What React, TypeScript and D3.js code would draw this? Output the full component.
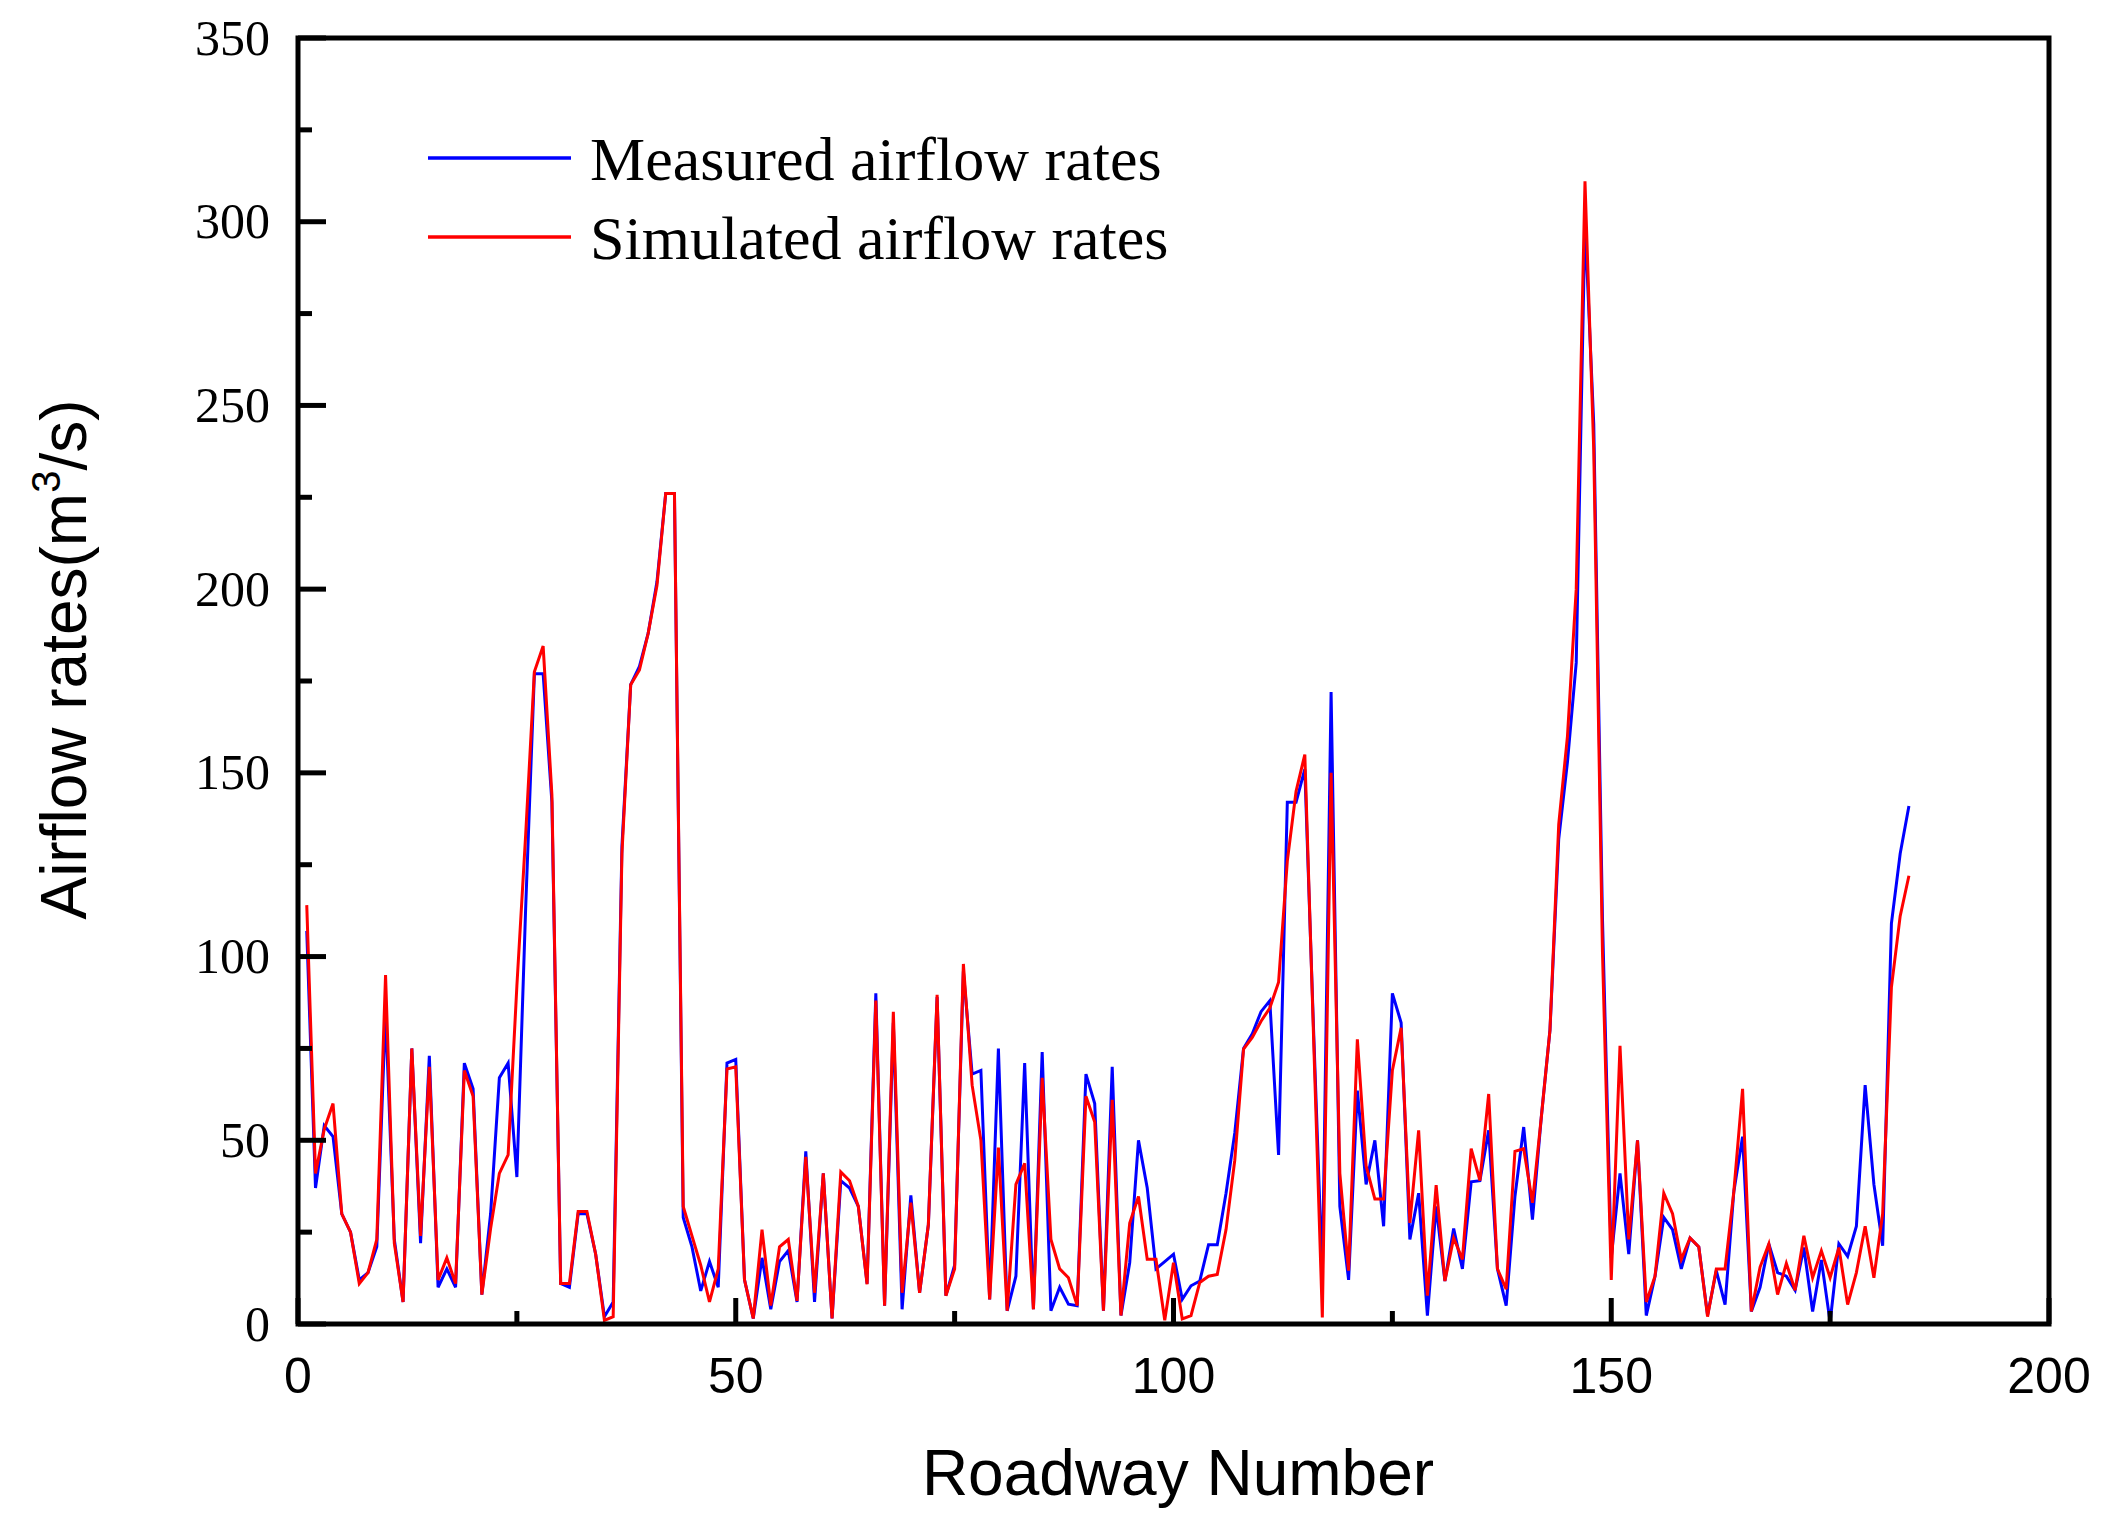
import React from 'react';
import * as d3 from 'd3';

// Roadway numbers 1..184, airflow rates in m3/s
const measured = [
  107, 37, 54, 51, 30, 25, 12, 14, 21, 85,
  23, 6, 75, 22, 73, 10, 15, 10, 71, 64,
  8, 30, 67, 71, 40, 113, 177, 177, 142, 11,
  10, 30, 30, 19, 2, 6, 130, 174, 179, 188,
  202, 226, 226, 29, 21, 9, 17, 10, 71, 72,
  12, 1.5, 18, 4, 17, 20, 6, 47, 6, 41,
  1.5, 39, 37, 32, 11, 90, 5, 82, 4, 35,
  8.5, 27, 89, 7.7, 16, 96, 68, 69, 6.7, 75,
  3.6, 13, 71, 4, 74, 3.6, 10, 5.4, 5, 68,
  60, 3.6, 70, 2.3, 16.7, 50, 37, 15, 17, 19,
  6.7, 10.4, 11.7, 21.6, 21.6, 35.6, 52, 75, 79, 85,
  88, 46, 142, 142, 151, 80, 13, 172, 32, 12,
  63.5, 38, 50, 26.6, 90, 82, 23, 35.6, 2.3, 32,
  11.7, 26, 15, 38.7, 39, 52.7, 15, 5, 34.7, 53.6,
  28.4, 56, 80, 132, 153, 180, 300, 245, 110, 18,
  41, 19, 50, 2.3, 13, 29, 25.7, 15, 23.4, 21,
  2.4, 14.5, 5.3, 36, 51, 3.4, 10, 21.8, 14, 13,
  9.2, 20.8, 3.4, 17.4, 0.5, 21.8, 18.4, 26.6, 65, 38,
  21.3, 109, 128, 141,
];

const simulated = [
  114, 41, 53, 60, 30, 25, 11, 14, 23, 95,
  22, 6, 75, 24, 70, 12, 18, 11, 69, 62,
  8, 26, 41, 46, 92, 133, 177.5, 184.5, 144, 11,
  11, 30.6, 30.6, 19, 1, 2, 128, 174, 178, 188,
  201, 226, 226, 32, 24, 16, 6, 15, 69.4, 70,
  12, 1.5, 25.7, 5, 21, 23, 6.3, 45.5, 8.5, 41,
  1.5, 41.4, 39, 32, 10.8, 88, 5, 85, 8.5, 33,
  8.5, 27, 89.6, 7.7, 15, 98, 65, 50, 6.7, 48,
  3.6, 38, 43.7, 4, 67, 23, 15, 12.6, 5, 62,
  55, 3.6, 61, 2.3, 27.5, 34.7, 17.6, 17.6, 1, 16.7,
  1.4, 2.3, 11.3, 13, 13.5, 25.7, 44.6, 74.8, 78, 82.4,
  86, 93, 126, 145, 155, 78, 1.8, 150, 41, 14.5,
  77.5, 43, 34, 34, 69, 80.6, 27.5, 52.7, 7.7, 37.8,
  11.7, 23.4, 17.6, 47.7, 39, 62.6, 15, 9.5, 47, 47.7,
  33, 56, 80, 136, 160, 200, 311, 238, 101, 12,
  75.7, 23, 50, 6, 13, 35.6, 30, 17.6, 23.4, 21,
  2, 15, 15, 36, 64, 3.4, 15.5, 21.8, 8, 16.5,
  9.2, 24, 12.6, 19.9, 12.6, 20.8, 5.3, 14, 26.6, 12.6,
  30, 91.6, 111, 122,
];

const xMajorTicks = [0, 50, 100, 150, 200];
const xMinorTicks = [25, 75, 125, 175];
const yMajorTicks = [0, 50, 100, 150, 200, 250, 300, 350];
const yMinorTicks = [25, 75, 125, 175, 225, 275, 325];

const seriesNames = ['Measured airflow rates', 'Simulated airflow rates'];
const seriesColors = ['#0000ff', '#ff0000'];

const W = 2110;
const H = 1517;
const left = 298;
const right = 2049;
const top = 38;
const bottom = 1324;

const App = () => {
  const x = d3.scaleLinear().domain([0, 200]).range([left, right]);
  const y = d3.scaleLinear().domain([0, 350]).range([bottom, top]);

  const line = d3
    .line<number>()
    .x((_, i) => x(i + 1))
    .y((d) => y(d));

  const serif = '"Liberation Serif", "Times New Roman", serif';
  const sans = '"Liberation Sans", Arial, sans-serif';

  return (
    <svg
      width={W}
      height={H}
      viewBox={`0 0 ${W} ${H}`}
      style={{ position: 'absolute', left: 0, top: 0, background: '#fff' }}
    >
      <rect x={0} y={0} width={W} height={H} fill="#fff" />

      {/* data */}
      {[measured, simulated].map((s, k) => (
        <path
          key={k}
          d={line(s) || ''}
          fill="none"
          stroke={seriesColors[k]}
          strokeWidth={3}
        />
      ))}

      {/* ticks, pointing inward */}
      {yMajorTicks.map((t) => (
        <line key={'ym' + t} x1={left} x2={left + 28} y1={y(t)} y2={y(t)} stroke="#000" strokeWidth={5} />
      ))}
      {yMinorTicks.map((t) => (
        <line key={'yn' + t} x1={left} x2={left + 14} y1={y(t)} y2={y(t)} stroke="#000" strokeWidth={5} />
      ))}
      {xMajorTicks.map((t) => (
        <line key={'xm' + t} x1={x(t)} x2={x(t)} y1={bottom} y2={bottom - 26} stroke="#000" strokeWidth={5} />
      ))}
      {xMinorTicks.map((t) => (
        <line key={'xn' + t} x1={x(t)} x2={x(t)} y1={bottom} y2={bottom - 13} stroke="#000" strokeWidth={5} />
      ))}

      {/* frame */}
      <rect
        x={left}
        y={top}
        width={right - left}
        height={bottom - top}
        fill="none"
        stroke="#000"
        strokeWidth={5}
      />

      {/* tick labels */}
      {yMajorTicks.map((t) => (
        <text
          key={'yl' + t}
          x={270}
          y={y(t)}
          dy="0.33em"
          textAnchor="end"
          fontFamily={serif}
          fontSize={50}
        >
          {t}
        </text>
      ))}
      {xMajorTicks.map((t) => (
        <text
          key={'xl' + t}
          x={x(t)}
          y={1393}
          textAnchor="middle"
          fontFamily={sans}
          fontSize={50}
        >
          {t}
        </text>
      ))}

      {/* axis titles */}
      <text x={1178} y={1495} textAnchor="middle" fontFamily={sans} fontSize={64}>
        Roadway Number
      </text>
      <text
        transform={`translate(86, ${(402 + 917) / 2}) rotate(-90)`}
        textAnchor="middle"
        fontFamily={sans}
        fontSize={64}
      >
        Airflow rates(m
        <tspan fontSize={40} dy={-26}>3</tspan>
        <tspan dy={26}>/s)</tspan>
      </text>

      {/* legend */}
      {seriesNames.map((name, k) => {
        const ly = 158 + k * 79;
        return (
          <g key={name}>
            <line x1={428} x2={571} y1={ly} y2={ly} stroke={seriesColors[k]} strokeWidth={3.5} />
            <text x={590} y={ly + 22} fontFamily={serif} fontSize={62}>
              {name}
            </text>
          </g>
        );
      })}
    </svg>
  );
};

export default App;
